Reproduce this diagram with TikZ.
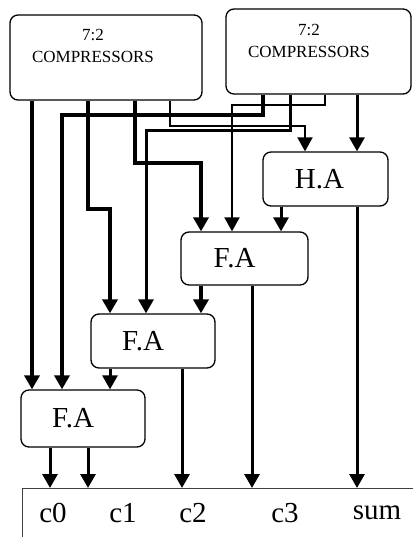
\documentclass[tikz,border=0pt]{standalone}
\usepackage{fontspec}
\setmainfont{Liberation Serif}
\usetikzlibrary{arrows.meta}

\begin{document}
\begin{tikzpicture}[
        x=1pt, y=-1pt,
        unit/.style={draw, rectangle, rounded corners=8pt, line width=1.3pt, minimum width=125pt, minimum height=54pt},
        comptext/.style={align=center, inner sep=0pt, font=\fontsize{17}{22}\selectfont},
        lbl/.style={inner sep=0pt, font=\fontsize{29}{32}\selectfont},
        wire/.style={-{Triangle[width=15pt,length=14pt]}, line width=3pt},
        heavy/.style={wire, line width=4.5pt},
        fine/.style={wire, line width=2pt}
        ]

        \useasboundingbox (0,0) rectangle (413,537);

        % compressors
        \node[unit, minimum width=192pt, minimum height=85pt] (compL) at (106,57.5) {};
        \node[comptext] (compLtxt) at (93,46) {7:2\\COMPRESSORS};
        \node[unit, minimum width=185pt, minimum height=85pt] (compR) at (318.5,51.5) {};
        \node[comptext] (compRtxt) at (309,41) {7:2\\COMPRESSORS};

        % adders
        \node[unit, label={[lbl, xshift=-6pt]center:H.A}] (ha) at (325.5,179) {};
        \node[unit, minimum width=127pt, minimum height=53pt, label={[lbl, xshift=-10pt]center:F.A}] (faC) at (244.5,258.5) {};
        \node[unit, minimum width=124pt, label={[lbl, xshift=-10pt]center:F.A}] (faB) at (153,341) {};
        \node[unit, minimum width=124pt, minimum height=57pt, label={[lbl, xshift=-10pt]center:F.A}] (faA) at (83,418.5) {};

        % result register
        \draw[line width=1pt, black!75] (413,488) -| (22,537);
        \coordinate (regtop) at (22,488);
        \node[lbl] (c0) at (53,513) {c0};
        \node[lbl] (c1) at (123,513) {c1};
        \node[lbl] (c2) at (193,513) {c2};
        \node[lbl] (c3) at (285,513) {c3};
        \node[lbl] (sum) at (377,513) {sum};

        % left compressor outputs
        \draw[heavy] (32,0 |- compL.south) -- (32,0 |- faA.north);
        \draw[heavy] (88,0 |- compL.south) -- (88,209) -| (110,0 |- faB.north);
        \draw[heavy] (135,0 |- compL.south) -- (135,163) -| (201,0 |- faC.north);
        \draw[fine] (170,0 |- compL.south) -- (170,126) -| (305,0 |- ha.north);

        % right compressor outputs
        \draw[heavy] (263,0 |- compR.south) -- (263,115) -| (62,0 |- faA.north);
        \draw[wire] (290,0 |- compR.south) -- (290,131) -| (146,0 |- faB.north);
        \draw[fine] (325,0 |- compR.south) -- (325,105) -| (232,0 |- faC.north);
        \draw[wire] (357,0 |- compR.south) -- (357,0 |- ha.north);

        % carries and sums
        \draw[wire] (281,0 |- ha.south) -- (281,0 |- faC.north);
        \draw[wire] (357,0 |- ha.south) -- (357,0 |- regtop);
        \draw[heavy] (201,0 |- faC.south) -- (201,0 |- faB.north);
        \draw[wire] (252,0 |- faC.south) -- (252,0 |- regtop);
        \draw[wire] (110,0 |- faB.south) -- (110,0 |- faA.north);
        \draw[wire] (182,0 |- faB.south) -- (182,0 |- regtop);
        \draw[wire] (50,0 |- faA.south) -- (50,0 |- regtop);
        \draw[wire] (88,0 |- faA.south) -- (88,0 |- regtop);
    \end{tikzpicture}
\end{document}
